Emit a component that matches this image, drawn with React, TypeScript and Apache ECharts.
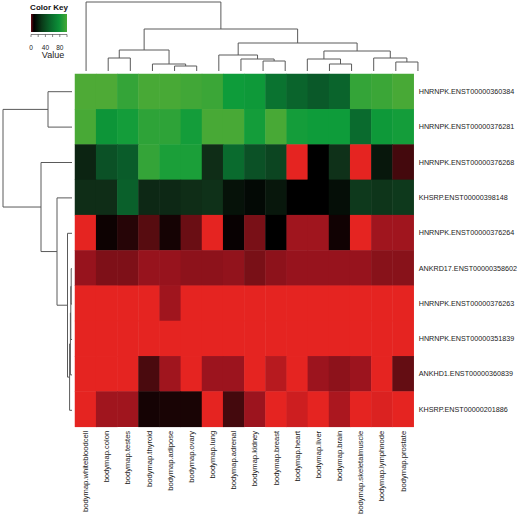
import React, { useEffect, useRef } from "react";
import * as echarts from "echarts";

const columns = [
  "bodymap.whitebloodcell", "bodymap.colon", "bodymap.testes", "bodymap.thyroid",
  "bodymap.adipose", "bodymap.ovary", "bodymap.lung", "bodymap.adrenal",
  "bodymap.kidney", "bodymap.breast", "bodymap.heart", "bodymap.liver",
  "bodymap.brain", "bodymap.skeletalmuscle", "bodymap.lymphnode", "bodymap.prostate",
];

const rows = [
  "HNRNPK.ENST00000360384", "HNRNPK.ENST00000376281", "HNRNPK.ENST00000376268",
  "KHSRP.ENST00000398148", "HNRNPK.ENST00000376264", "ANKRD17.ENST00000358602",
  "HNRNPK.ENST00000376263", "HNRNPK.ENST00000351839", "ANKHD1.ENST00000360839",
  "KHSRP.ENST00000201886",
];

// colour-index values (0 = bright red, 50 = black, 100 = light green)
const row1 = [100, 100, 96, 99, 99, 98, 97, 90, 89, 78, 74, 71, 74, 96, 97, 99];
const row2 = [99, 88, 91, 95, 95, 91, 99, 99, 91, 99, 91, 90, 90, 76, 89, 91];
const row3 = [58, 69, 72, 96, 92, 92, 60, 76, 69, 66, 0, 50, 61, 0, 55, 36];
const row4 = [60, 60, 73, 59, 59, 60, 61, 54, 52, 55, 50, 50, 53, 63, 62, 63];
const row5 = [0, 47, 41, 33, 45, 30, 0, 48, 27, 50, 19, 19, 46, 0, 19, 19];
const row6 = [21, 26, 26, 21, 21, 23, 23, 22, 27, 23, 21, 21, 21, 21, 24, 24];
const row7 = [0, 0, 0, 0, 19, 0, 0, 0, 0, 0, 0, 0, 0, 0, 0, 0];
const row8 = [0, 0, 0, 0, 0, 0, 0, 0, 0, 0, 0, 0, 0, 0, 0, 0];
const row9 = [0, 0, 0, 35, 19, 0, 20, 20, 0, 13, 0, 20, 23, 20, 0, 31];
const row10 = [0, 19, 19, 45, 44, 44, 0, 36, 20, 0, 7, 0, 16, 0, 3, 0];
const matrix = [row1, row2, row3, row4, row5, row6, row7, row8, row9, row10];

const heatColors = [
  "#e52421", "#c21c20", "#9c141e", "#6a0e14", "#2a0608", "#000000",
  "#0f2d17", "#0a5528", "#0a7a32", "#0e9c3a", "#4eaa36",
];

// hclust-style merges: negative = leaf (1-based, display order), positive = merge row
const colMerges: [number, number, number][] = [
  [-2, -3, 13], [-5, -6, 5], [-4, 2, 7], [1, 3, 21],
  [-9, -10, 10], [-8, 5, 12], [-7, 6, 16],
  [-12, -13, 7], [-11, 8, 12], [-15, -16, 9], [-14, 10, 13],
  [9, 11, 20], [7, 12, 28], [4, 13, 42], [-1, 14, 69],
];
const rowMerges: [number, number, number][] = [
  [-1, -2, 24], [-6, -7, 0.8], [2, -8, 1.2], [3, -9, 1.6], [4, -10, 2.4],
  [-5, 5, 4.5], [-4, 6, 15], [-3, 7, 31], [1, 8, 69],
];

const keyTicks = [0, 20, 40, 60, 80, 100];
const keyLabels = [0, 40, 80];
const keyColors = ["#6a0c16", "#000000", "#0a3a18", "#0a6a2c", "#0c9038", "#45aa36"];

function buildSegments(merges: [number, number, number][]) {
  const pos: number[] = [];
  const hgt: number[] = [];
  const gp = (r: number) => (r < 0 ? -r - 0.5 : pos[r - 1]);
  const gh = (r: number) => (r < 0 ? 0 : hgt[r - 1]);
  const segs: number[][] = [];
  merges.forEach(([a, b, h], i) => {
    const pa = gp(a), pb = gp(b);
    pos[i] = (pa + pb) / 2;
    hgt[i] = h;
    segs.push([pa, gh(a), pb, gh(b), h]);
  });
  return segs;
}

const FONT = "Liberation Sans, Arial, sans-serif";

export default function App() {
  const ref = useRef<HTMLDivElement>(null);
  useEffect(() => {
    if (!ref.current) return;
    const chart = echarts.init(ref.current, undefined, { renderer: "svg" });
    const heatData: number[][] = [];
    matrix.forEach((r, ri) => r.forEach((v, ci) => heatData.push([ci, ri, v])));
    const colSegs = buildSegments(colMerges);
    const rowSegs = buildSegments(rowMerges);
    const lineStyle = { stroke: "#5a5a5a", lineWidth: 1, fill: null };

    const kx0 = 31, kx1 = 67, ky0 = 14, ky1 = 32;
    const kx = (v: number) => kx0 + ((kx1 - kx0) * v) / 100;
    const keyElems: any[] = [
      {
        type: "text", x: 49, y: 7,
        style: { text: "Color Key", fontSize: 8, fontWeight: "bold", fontFamily: FONT, fill: "#111", align: "center", verticalAlign: "middle" },
      },
      {
        type: "rect", shape: { x: kx0, y: ky0, width: kx1 - kx0, height: ky1 - ky0 },
        style: {
          fill: new echarts.graphic.LinearGradient(0, 0, 1, 0,
            keyColors.map((c, i) => ({ offset: [0, 0.08, 0.3, 0.55, 0.78, 1][i], color: c }))),
        },
      },
      { type: "line", shape: { x1: kx(0), y1: ky1 + 2.5, x2: kx(100), y2: ky1 + 2.5 }, style: { stroke: "#333", lineWidth: 0.6 } },
      ...keyTicks.map((t) => ({ type: "line", shape: { x1: kx(t), y1: ky1 + 2.5, x2: kx(t), y2: ky1 + 5 }, style: { stroke: "#333", lineWidth: 0.6 } })),
      ...keyLabels.map((t) => ({
        type: "text", x: kx(t), y: 47,
        style: { text: String(t), fontSize: 6.5, fontFamily: FONT, fill: "#222", align: "center", verticalAlign: "middle" },
      })),
      {
        type: "text", x: 53, y: 55,
        style: { text: "Value", fontSize: 9, fontFamily: FONT, fill: "#222", align: "center", verticalAlign: "middle" },
      },
    ];

    chart.setOption({
      animation: false,
      backgroundColor: "#ffffff",
      grid: [
        { left: 75, top: 74, width: 354, height: 354 },
        { left: 75, top: 0, width: 354, height: 71 },
        { left: 0, top: 74, width: 72, height: 354 },
      ],
      xAxis: [
        {
          type: "category", data: columns, gridIndex: 0, position: "bottom",
          axisLine: { show: false }, axisTick: { show: false }, splitLine: { show: false },
          axisLabel: { rotate: 90, fontSize: 7.6, margin: 4, color: "#222", fontFamily: FONT, interval: 0 },
        },
        { type: "value", gridIndex: 1, min: 0, max: 16, show: false },
        { type: "value", gridIndex: 2, min: 0, max: 72, inverse: true, show: false },
      ],
      yAxis: [
        {
          type: "category", data: rows, gridIndex: 0, inverse: true, position: "right",
          axisLine: { show: false }, axisTick: { show: false }, splitLine: { show: false },
          axisLabel: { fontSize: 7.2, margin: 5, color: "#222", fontFamily: FONT, interval: 0 },
        },
        { type: "value", gridIndex: 1, min: 0, max: 71, show: false },
        { type: "value", gridIndex: 2, min: 0, max: 10, inverse: true, show: false },
      ],
      visualMap: {
        show: false, type: "continuous", min: 0, max: 100, seriesIndex: 0, dimension: 2,
        inRange: { color: heatColors },
      },
      graphic: keyElems,
      series: [
        {
          type: "heatmap", xAxisIndex: 0, yAxisIndex: 0, data: heatData,
          itemStyle: { borderWidth: 0 }, emphasis: { disabled: true },
        },
        {
          type: "custom", xAxisIndex: 1, yAxisIndex: 1, data: colSegs, clip: false,
          renderItem: (_p: any, api: any) => {
            const x1 = api.value(0), h1 = api.value(1), x2 = api.value(2), h2 = api.value(3), h = api.value(4);
            return {
              type: "polyline",
              shape: { points: [api.coord([x1, h1]), api.coord([x1, h]), api.coord([x2, h]), api.coord([x2, h2])] },
              style: lineStyle,
            };
          },
        },
        {
          type: "custom", xAxisIndex: 2, yAxisIndex: 2, data: rowSegs, clip: false,
          renderItem: (_p: any, api: any) => {
            const y1 = api.value(0), h1 = api.value(1), y2 = api.value(2), h2 = api.value(3), h = api.value(4);
            return {
              type: "polyline",
              shape: { points: [api.coord([h1, y1]), api.coord([h, y1]), api.coord([h, y2]), api.coord([h2, y2])] },
              style: lineStyle,
            };
          },
        },
      ],
    });
    return () => chart.dispose();
  }, []);
  return (
    <div
      ref={ref}
      style={{ position: "fixed", left: 0, top: 0, width: 520, height: 517, background: "#fff" }}
    />
  );
}
